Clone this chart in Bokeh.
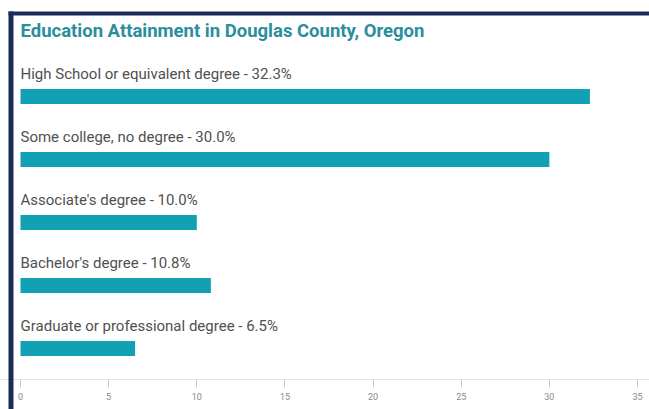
from bokeh.plotting import figure
from bokeh.models import ColumnDataSource, Range1d, FixedTicker, Label, BoxAnnotation, LinearAxis
from bokeh.core.properties import value
from bokeh.embed import file_html
from bokeh.resources import INLINE

title_text = "Education Attainment in Douglas County, Oregon"
categories = [
    "High School or equivalent degree",
    "Some college, no degree",
    "Associate's degree",
    "Bachelor's degree",
    "Graduate or professional degree",
]
percent = [32.3, 30.0, 10.0, 10.8, 6.5]
x_ticks = [0, 5, 10, 15, 20, 25, 30, 35]

positions = list(range(len(categories)))
labels = [f"{c} - {v:.1f}%" for c, v in zip(categories, percent)]
zeros = [0] * len(categories)

src = ColumnDataSource(dict(y=positions, v=percent, z=zeros, lab=labels))

NAVY = "#1c2b5a"
TEAL = "#12a0b4"

p = figure(
    width=649, height=409,
    x_range=Range1d(-1.1345, 35.68),
    y_range=Range1d(4.968, -1.524),
    output_backend="svg", toolbar_location=None,
    x_axis_location=None, y_axis_location=None,
    min_border_left=0, min_border_right=0, min_border_top=0, min_border_bottom=0,
)
p.outline_line_color = None
p.grid.visible = False
p.background_fill_color = "white"
p.border_fill_color = "white"

p.hbar(y="y", left="z", right="v", height=0.238, source=src, color=TEAL, line_color=None)
p.text(x="z", y="y", text="lab", source=src, y_offset=-23,
       text_font=value("Roboto"), text_font_size="15px", text_color="#505050",
       text_baseline="middle", text_align="left")

t = Label(x=0, y=-1.032, text=title_text, text_font="Roboto", text_font_style="bold",
          text_font_size="18.5px", text_color="#2b8e9c", text_baseline="middle")
p.add_layout(t)

# frame border of the original widget (left and top)
p.add_layout(BoxAnnotation(left=8, right=13, top=11, bottom=409,
                           left_units="canvas", right_units="canvas",
                           top_units="canvas", bottom_units="canvas",
                           fill_color=NAVY, fill_alpha=1, line_color=None))
p.add_layout(BoxAnnotation(left=8, right=649, top=11, bottom=15,
                           left_units="canvas", right_units="canvas",
                           top_units="canvas", bottom_units="canvas",
                           fill_color=NAVY, fill_alpha=1, line_color=None))

ax = LinearAxis(fixed_location=4.492)
ax.ticker = FixedTicker(ticks=x_ticks)
ax.axis_line_color = "#e4e4e4"
ax.major_tick_line_color = "#cccccc"
ax.major_tick_out = 8
ax.major_tick_in = 0
ax.minor_tick_line_color = None
ax.major_label_text_font = "Roboto"
ax.major_label_text_font_size = "9px"
ax.major_label_text_color = "#888888"
ax.major_label_standoff = 5
p.add_layout(ax, "below")

open("out.html", "w").write(file_html(p, INLINE))
